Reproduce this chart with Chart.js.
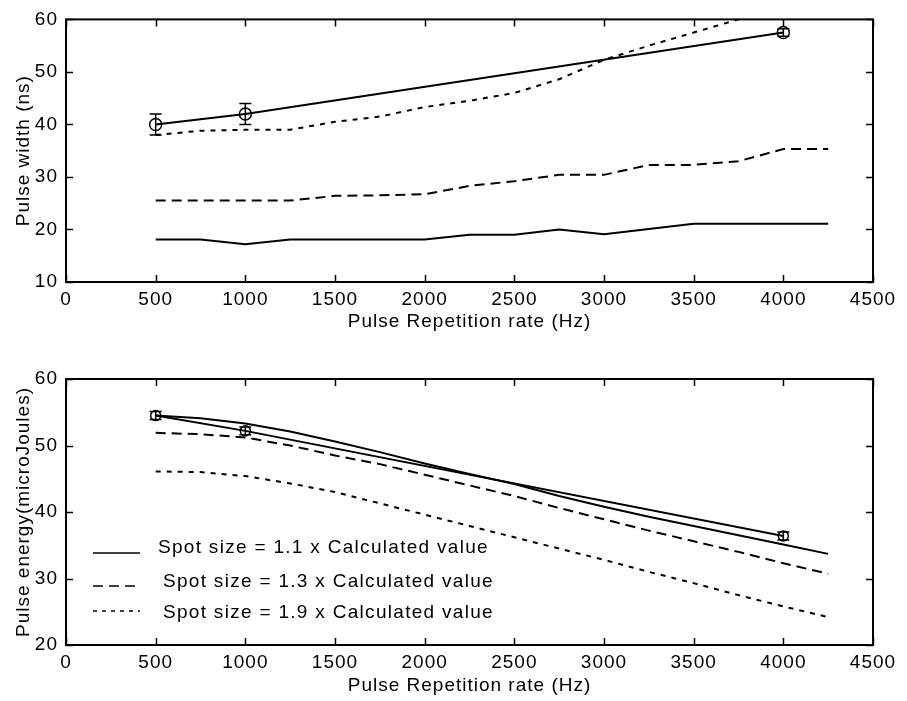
<!DOCTYPE html>
<html>
<head>
<meta charset="utf-8">
<script src="https://cdn.jsdelivr.net/npm/chart.js"></script>
<style>
  body { margin: 0; background: #fff; }
  #wrap { position: relative; width: 907px; height: 701px; }
  canvas { position: absolute; left: 0; }
</style>
</head>
<body>
<div id="wrap">
  <canvas id="graficoLargura" width="907" height="350" style="top:0;width:907px;height:350px"></canvas>
  <canvas id="graficoEnergia" width="907" height="351" style="top:350px;width:907px;height:351px"></canvas>
</div>
<script>
// dados (frequencia em Hz)
const xModelo = [500, 750, 1000, 1250, 1500, 1750, 2000, 2250, 2500, 2750, 3000, 3250, 3500, 3750, 4000, 4250];
const xMedido = [500, 1000, 4000];
const xTicks = [0, 500, 1000, 1500, 2000, 2500, 3000, 3500, 4000, 4500];

// largura do pulso (ns)
const largura11 = [18.1, 18.1, 17.2, 18.1, 18.1, 18.1, 18.1, 19.0, 19.0, 20.0, 19.1, 20.1, 21.1, 21.1, 21.1, 21.1];
const largura13 = [25.5, 25.5, 25.5, 25.5, 26.4, 26.5, 26.7, 28.3, 29.2, 30.4, 30.4, 32.3, 32.3, 33.0, 35.3, 35.3];
const largura19 = [38.0, 38.8, 39.0, 39.0, 40.5, 41.5, 43.3, 44.5, 46.0, 48.6, 52.3, 55.0, 57.5, 60.0, 62.5, 65.0];
const larguraMedida = [40.0, 42.0, 57.5];
const larguraErro = [2.0, 2.0, 0.7];

// energia do pulso (microJoules)
const energia11 = [54.5, 54.1, 53.3, 52.1, 50.6, 49.0, 47.3, 45.7, 44.2, 42.4, 40.8, 39.3, 37.9, 36.5, 35.1, 33.7];
const energia13 = [51.9, 51.7, 51.2, 50.0, 48.5, 47.2, 45.6, 44.0, 42.4, 40.6, 38.9, 37.2, 35.6, 34.0, 32.3, 30.7];
const energia19 = [46.1, 46.0, 45.4, 44.3, 43.0, 41.3, 39.6, 37.9, 36.2, 34.5, 32.8, 31.0, 29.3, 27.5, 25.8, 24.2];
const energiaMedida = [54.5, 52.2, 36.4];
const energiaErro = [0.6, 0.6, 0.6];

const legendas = [
  'Spot size = 1.1 x Calculated value',
  'Spot size = 1.3 x Calculated value',
  'Spot size = 1.9 x Calculated value'
];

const fonte = '"Liberation Sans", Arial, Helvetica, sans-serif';
const tracos = [[], [10, 6], [5, 6]];

function pares(xs, ys) {
  return xs.map((x, i) => ({ x: x, y: ys[i] }));
}

function serie(xs, ys, dash, label) {
  return {
    label: label,
    data: pares(xs, ys),
    borderColor: '#000',
    borderWidth: 2,
    borderDash: dash,
    pointRadius: 0,
    tension: 0,
    fill: false
  };
}

function serieMedida(ys, erros, raio) {
  return {
    label: 'medido',
    data: pares(xMedido, ys),
    erros: erros,
    borderColor: '#000',
    borderWidth: 2,
    pointRadius: raio,
    pointStyle: 'circle',
    pointBackgroundColor: 'rgba(0,0,0,0)',
    pointBorderColor: '#000',
    pointBorderWidth: 1.5,
    tension: 0,
    fill: false
  };
}

// texto um pouco mais largo, como no original escaneado
const espacamento = {
  id: 'espacamento',
  beforeUpdate(chart) { chart.ctx.letterSpacing = '1px'; },
  beforeDraw(chart) { chart.ctx.letterSpacing = '1px'; }
};

// ticks para dentro nos quatro lados + caixa
const ticksInternos = {
  id: 'ticksInternos',
  afterDatasetsDraw(chart) {
    const { ctx, chartArea: a, scales: { x, y } } = chart;
    ctx.save();
    ctx.strokeStyle = '#000';
    ctx.lineWidth = 1.5;
    ctx.beginPath();
    x.ticks.forEach(t => {
      const px = Math.round(x.getPixelForValue(t.value)) + 0.5;
      ctx.moveTo(px, a.bottom); ctx.lineTo(px, a.bottom - 7);
      ctx.moveTo(px, a.top); ctx.lineTo(px, a.top + 7);
    });
    y.ticks.forEach(t => {
      const py = Math.round(y.getPixelForValue(t.value)) + 0.5;
      ctx.moveTo(a.left, py); ctx.lineTo(a.left + 7, py);
      ctx.moveTo(a.right, py); ctx.lineTo(a.right - 7, py);
    });
    ctx.stroke();
    ctx.lineWidth = 2;
    ctx.strokeRect(a.left, a.top, a.right - a.left, a.bottom - a.top);
    ctx.restore();
  }
};

// barras de erro
const barrasErro = {
  id: 'barrasErro',
  afterDatasetsDraw(chart) {
    const { ctx, scales: { x, y } } = chart;
    ctx.save();
    ctx.strokeStyle = '#000';
    ctx.lineWidth = 1.5;
    chart.data.datasets.forEach(ds => {
      if (!ds.erros) return;
      ds.data.forEach((p, i) => {
        const px = x.getPixelForValue(p.x);
        const y1 = y.getPixelForValue(p.y + ds.erros[i]);
        const y2 = y.getPixelForValue(p.y - ds.erros[i]);
        ctx.beginPath();
        ctx.moveTo(px, y1); ctx.lineTo(px, y2);
        ctx.moveTo(px - 6, y1); ctx.lineTo(px + 6, y1);
        ctx.moveTo(px - 6, y2); ctx.lineTo(px + 6, y2);
        ctx.stroke();
      });
    });
    ctx.restore();
  }
};

// legenda dentro do grafico de baixo
const legendaInterna = {
  id: 'legendaInterna',
  afterDraw(chart) {
    const ctx = chart.ctx;
    const linhasY = [203, 236, 261];
    const baseY = [203, 237, 268];
    const textoX = [158, 163, 163];
    ctx.save();
    ctx.strokeStyle = '#000';
    ctx.lineWidth = 1.5;
    ctx.fillStyle = '#000';
    ctx.font = '19px ' + fonte;
    ctx.letterSpacing = '1.3px';
    ctx.textBaseline = 'alphabetic';
    legendas.forEach((txt, i) => {
      ctx.setLineDash(i === 2 ? [4, 5] : tracos[i]);
      ctx.beginPath();
      ctx.moveTo(93, linhasY[i]);
      ctx.lineTo(140, linhasY[i]);
      ctx.stroke();
      ctx.setLineDash([]);
      ctx.fillText(txt, textoX[i], baseY[i]);
    });
    ctx.restore();
  }
};

function opcoes(yMin, yMax, yTitulo, padTopo, alturaX, padBase) {
  return {
    responsive: false,
    animation: false,
    layout: { padding: { top: padTopo, right: 34, left: 0, bottom: padBase } },
    plugins: { legend: { display: false }, tooltip: { enabled: false } },
    scales: {
      x: {
        type: 'linear',
        min: 0, max: 4500,
        afterBuildTicks: s => { s.ticks = xTicks.map(v => ({ value: v })); },
        afterFit: s => { s.height = alturaX; },
        grid: { display: false, drawTicks: false },
        border: { display: false },
        ticks: { color: '#000', padding: 6, maxRotation: 0, autoSkip: false,
                 callback: v => String(v), font: { family: fonte, size: 19 } },
        title: { display: true, text: 'Pulse Repetition rate (Hz)', color: '#000',
                 padding: { top: 0, bottom: 0 }, font: { family: fonte, size: 19 } }
      },
      y: {
        min: yMin, max: yMax,
        ticks: { stepSize: 10, color: '#000', padding: 8, callback: v => String(v),
                 font: { family: fonte, size: 19 } },
        afterFit: s => { s.width = 66; },
        grid: { display: false, drawTicks: false },
        border: { display: false },
        title: { display: true, text: yTitulo, color: '#000',
                 padding: { top: 12, bottom: 0 }, font: { family: fonte, size: 19 } }
      }
    }
  };
}

window.addEventListener('DOMContentLoaded', () => {
  const ctxLargura = document.getElementById('graficoLargura').getContext('2d');
  new Chart(ctxLargura, {
    type: 'line',
    data: {
      datasets: [
        serieMedida(larguraMedida, larguraErro, 6),
        serie(xModelo, largura11, tracos[0], legendas[0]),
        serie(xModelo, largura13, tracos[1], legendas[1]),
        serie(xModelo, largura19, tracos[2], legendas[2])
      ]
    },
    options: opcoes(10, 60, 'Pulse width (ns)', 17, 51, 17),
    plugins: [espacamento, barrasErro, ticksInternos]
  });

  const ctxEnergia = document.getElementById('graficoEnergia').getContext('2d');
  new Chart(ctxEnergia, {
    type: 'line',
    data: {
      datasets: [
        serieMedida(energiaMedida, energiaErro, 5),
        serie(xModelo, energia11, tracos[0], legendas[0]),
        serie(xModelo, energia13, tracos[1], legendas[1]),
        serie(xModelo, energia19, tracos[2], legendas[2])
      ]
    },
    options: opcoes(20, 60, 'Pulse energy(microJoules)', 29, 52, 4),
    plugins: [espacamento, barrasErro, ticksInternos, legendaInterna]
  });
});
</script>
</body>
</html>
